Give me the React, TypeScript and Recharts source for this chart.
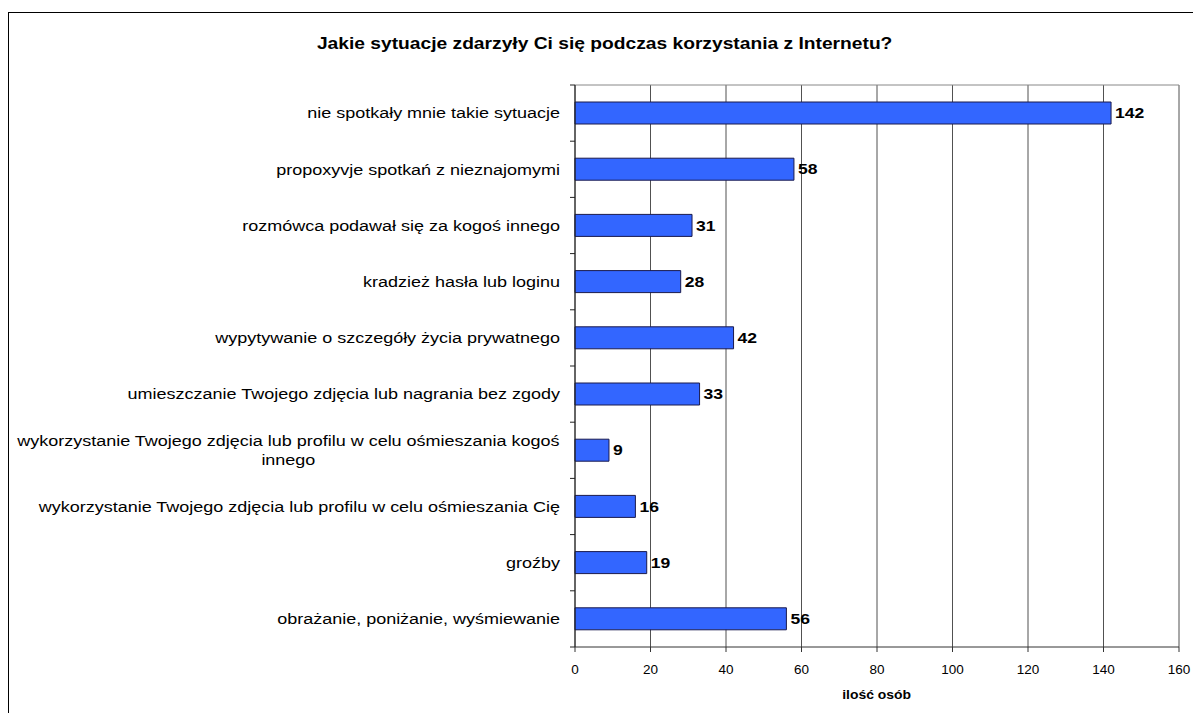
import React from "react";
import { BarChart, Bar, XAxis, YAxis, CartesianGrid, LabelList } from "recharts";

const categories = [
  "nie spotkały mnie takie sytuacje",
  "propoxyvje spotkań z nieznajomymi",
  "rozmówca podawał się za kogoś innego",
  "kradzież hasła lub loginu",
  "wypytywanie o szczegóły życia prywatnego",
  "umieszczanie Twojego zdjęcia lub nagrania bez zgody",
  "wykorzystanie Twojego zdjęcia lub profilu w celu ośmieszania kogoś\ninnego",
  "wykorzystanie Twojego zdjęcia lub profilu w celu ośmieszania Cię",
  "groźby",
  "obrażanie, poniżanie, wyśmiewanie",
];

const counts = [142, 58, 31, 28, 42, 33, 9, 16, 19, 56];

const xTicks = [0, 20, 40, 60, 80, 100, 120, 140, 160];

const data = categories.map((name, i) => ({ name, value: counts[i] }));

const FONT = "'Liberation Sans', Arial, sans-serif";
// the original text is drawn a bit wider than plain Arial
const CAT_SIZE = 15;
const CAT_STRETCH = 1.2;
const VAL_STRETCH = 1.17;

let ctx: CanvasRenderingContext2D | null = null;
function textWidth(s: string, font: string) {
  if (!ctx) ctx = document.createElement("canvas").getContext("2d");
  if (!ctx) return s.length * 7;
  ctx.font = font;
  return ctx.measureText(s).width;
}

function CategoryTick(props: any) {
  const { x, y, payload, index, visibleTicksCount } = props;
  const half = payload?.offset || 28.1;
  const lines = String(payload.value).split("\n");
  const font = `${CAT_SIZE}px ${FONT}`;
  const maxW = Math.max(...lines.map((l) => textWidth(l, font))) * CAT_STRETCH;
  const lineH = 19;
  const startY = y - ((lines.length - 1) * lineH) / 2;
  const axisX = x + 15;
  const isLast = index === (visibleTicksCount ?? categories.length) - 1;
  const multi = lines.length > 1;
  return (
    <g>
      <line x1={axisX - 5} x2={axisX} y1={y - half} y2={y - half} stroke="#222" />
      {isLast && <line x1={axisX - 5} x2={axisX} y1={y + half} y2={y + half} stroke="#222" />}
      {lines.map((l, i) => (
        <g key={i} transform={`translate(${multi ? x - maxW / 2 : x},${startY + i * lineH}) scale(${CAT_STRETCH},1)`}>
          <text
            x={0}
            y={0}
            dy="0.35em"
            textAnchor={multi ? "middle" : "end"}
            fontSize={CAT_SIZE}
            fontFamily={FONT}
            fill="#000"
          >
            {l}
          </text>
        </g>
      ))}
    </g>
  );
}

function ValueLabel(props: any) {
  const { x, y, width, height, value } = props;
  return (
    <g transform={`translate(${x + width + 4},${y + height / 2}) scale(${VAL_STRETCH},1)`}>
      <text x={0} y={0} dy="0.35em" fontSize={15} fontWeight="bold" fontFamily={FONT} fill="#000">
        {value}
      </text>
    </g>
  );
}

export default function App() {
  return (
    <div
      style={{
        position: "fixed",
        left: 8,
        top: 8,
        width: 1185,
        height: 705,
        overflow: "hidden",
        fontFamily: FONT,
        background: "#fff",
      }}
    >
      <style>{"html,body{overflow:hidden;}"}</style>
      <div
        style={{
          position: "absolute",
          left: 0,
          top: 4,
          width: 1300,
          height: 800,
          borderLeft: "1px solid #000",
          borderTop: "1px solid #000",
        }}
      />
      <div
        style={{
          position: "absolute",
          left: 0,
          width: 1194,
          top: 26,
          textAlign: "center",
          fontWeight: "bold",
          fontSize: 17,
          color: "#000",
        }}
      >
        <span style={{ display: "inline-block", transform: "scaleX(1.13)" }}>
          Jakie sytuacje zdarzyły Ci się podczas korzystania z Internetu?
        </span>
      </div>
      <div
        style={{
          position: "absolute",
          left: 0,
          width: 1738,
          top: 680,
          textAlign: "center",
          fontWeight: "bold",
          fontSize: 12,
          color: "#000",
        }}
      >
        <span style={{ display: "inline-block", transform: "scaleX(1.16)" }}>ilość osób</span>
      </div>
      <div style={{ position: "absolute", left: 0, top: 0 }}>
        <BarChart
          width={1185}
          height={705}
          data={data}
          layout="vertical"
          margin={{ top: 77, right: 14, left: 0, bottom: 0 }}
          barSize={22}
        >
          <CartesianGrid vertical horizontal={false} stroke="#333" strokeOpacity={0.85} />
          <CartesianGrid
            vertical={false}
            horizontal
            stroke="#888"
            horizontalCoordinatesGenerator={({ offset }: any) => [offset.top]}
          />
          <XAxis
            type="number"
            domain={[0, 160]}
            ticks={xTicks}
            height={66}
            axisLine={{ stroke: "#333" }}
            tickLine={{ stroke: "#333" }}
            tickSize={5}
            tickMargin={12}
            tick={{ fontSize: 13.5, fill: "#000", fontFamily: FONT }}
          />
          <YAxis
            type="category"
            dataKey="name"
            width={567}
            axisLine={{ stroke: "#222" }}
            tickLine={false}
            tickSize={5}
            tickMargin={10}
            interval={0}
            tick={<CategoryTick />}
          />
          <Bar dataKey="value" fill="#3366FF" stroke="#1a1a4d" strokeWidth={1} isAnimationActive={false}>
            <LabelList dataKey="value" content={<ValueLabel />} />
          </Bar>
        </BarChart>
      </div>
    </div>
  );
}
